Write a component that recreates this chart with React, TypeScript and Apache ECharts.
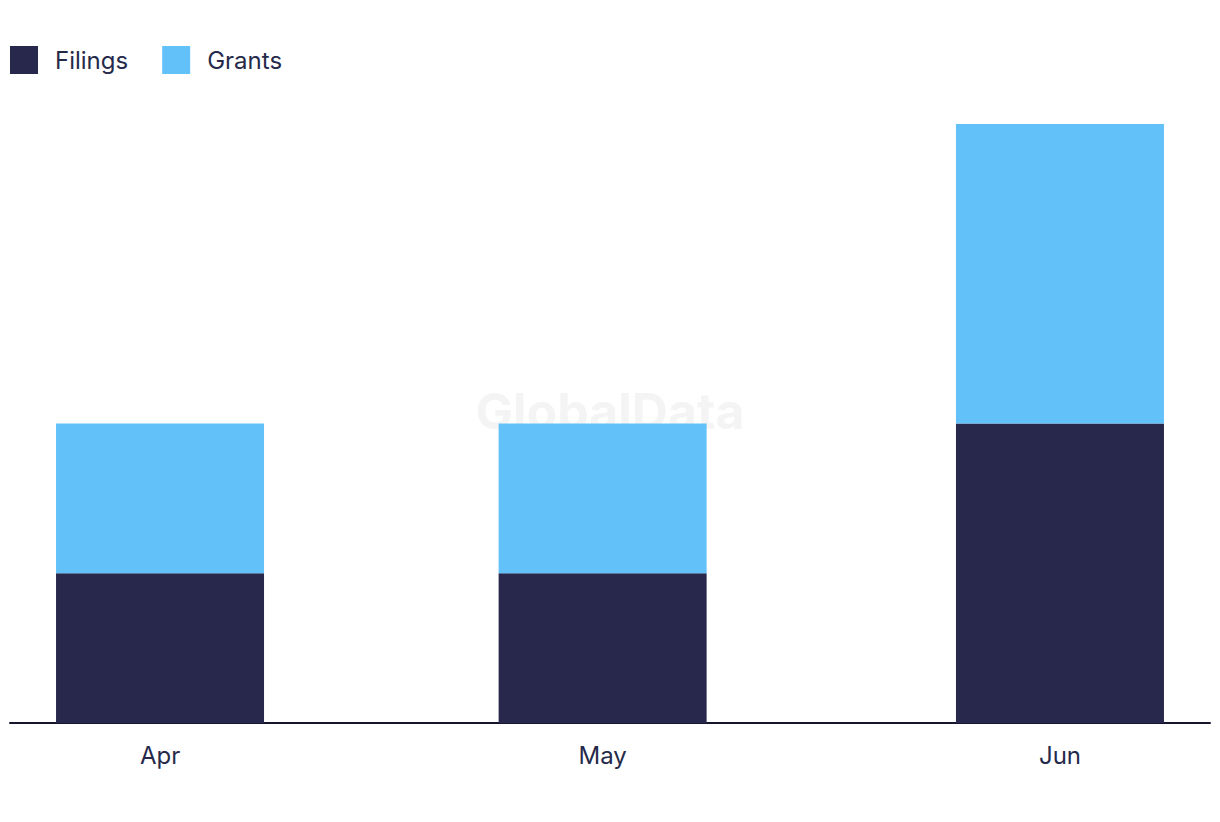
import React, { useEffect, useRef } from "react";
import * as echarts from "echarts";

const months = ["Apr", "May", "Jun"];
const monthDates = ["2024-04-01", "2024-05-01", "2024-06-01"];
const filings = [1, 1, 2];
const grants = [1, 1, 2];

const DAY = 86400000;
const toTs = (s: string) => {
  const [y, m, d] = s.split("-").map(Number);
  return Date.UTC(y, m - 1, d);
};

export default function App() {
  const ref = useRef<HTMLDivElement>(null);
  useEffect(() => {
    if (!ref.current) return;
    const chart = echarts.init(ref.current, null, { renderer: "svg" });
    const ts = monthDates.map(toTs);
    // ECharts widens a bar axis by the bar width; this padding leaves ~10 days per side after that.
    const pad = 3.12 * DAY;
    chart.setOption({
      animation: false,
      useUTC: true,
      textStyle: { fontFamily: "Inter" },
      graphic: [
        {
          type: "text",
          x: 610,
          y: 411,
          z: -10,
          silent: true,
          style: {
            text: "GlobalData",
            fontSize: 50,
            fontWeight: "bold",
            fontFamily: "Inter",
            fill: "#f4f4f4",
            align: "center",
            verticalAlign: "middle",
          },
        },
      ],
      legend: {
        left: 10,
        top: 46,
        padding: 0,
        itemWidth: 28,
        itemHeight: 28,
        itemGap: 34,
        icon: "rect",
        textStyle: { fontSize: 24, color: "#262a4a", padding: [0, 0, 10, 12] },
        data: ["Filings", "Grants"],
      },
      grid: { left: 10, right: 10, top: 124, bottom: 99, containLabel: false },
      xAxis: {
        type: "time",
        min: ts[0] - pad,
        max: ts[2] + pad,
        splitNumber: 3,
        axisLine: { show: true, lineStyle: { color: "#151530", width: 2 } },
        axisTick: { show: false },
        splitLine: { show: false },
        axisLabel: {
          formatter: (v: number) => {
            const i = ts.indexOf(v);
            return i >= 0 ? months[i] : "";
          },
          fontSize: 24,
          color: "#262a4a",
          margin: 20,
          showMinLabel: false,
          showMaxLabel: false,
        },
      },
      yAxis: {
        type: "value",
        min: 0,
        max: 4,
        show: false,
        splitLine: { show: false },
      },
      series: [
        {
          name: "Filings",
          type: "bar",
          stack: "total",
          barWidth: 208,
          itemStyle: { color: "#28284c" },
          data: filings.map((v, i) => [ts[i], v]),
        },
        {
          name: "Grants",
          type: "bar",
          stack: "total",
          barWidth: 208,
          itemStyle: { color: "#62c1f9" },
          data: grants.map((v, i) => [ts[i], v]),
        },
      ],
    });
    return () => chart.dispose();
  }, []);
  return (
    <div
      ref={ref}
      style={{ position: "absolute", left: 0, top: 0, width: 1220, height: 822, background: "#fff" }}
    />
  );
}
